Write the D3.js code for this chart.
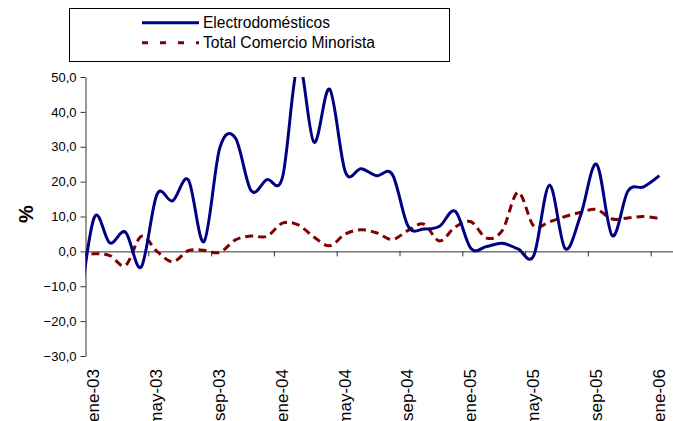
<!DOCTYPE html>
<html>
  <head>
    <meta charset="utf-8">
    <title>Electrodomésticos vs Total Comercio Minorista</title>
    <script src="https://d3js.org/d3.v7.min.js"></script>
    <style>
      body { margin: 0; background: #fff; }
      svg { font-family: "Liberation Sans", Arial, sans-serif; }
      .axis path, .axis line { stroke: #333; }
      .axis text { fill: #000; }
    </style>
  </head>
  <body>
    <svg id="chart" width="673" height="421"></svg>
    <script>
      // monthly series, dic-02 .. ene-06 (first month sits left of the axis and is clipped)
      var electro = [-20, 9.6, 2.4, 5.5, -4.5, 16.3, 14.5, 20.5, 2.8, 29.6, 32.5, 17.4, 20.6, 21.3,
        54, 31.3, 46.5, 22.8, 23.7, 21.7, 22, 7.2, 6.4, 7.2, 11.5, 0.8, 1.4, 2.3, 0.7, -1.2,
        19.0, 0.8, 10.5, 25, 4.5, 17.3, 18.5, 21.7];
      var total = [-1.2, -0.7, -1.2, -4.0, 4.3, 0.0, -3.0, 0.2, 0.3, -0.3, 3.3, 4.4, 4.3, 8.1,
        7.6, 4.1, 1.6, 5.0, 6.2, 5.3, 3.4, 6.0, 7.8, 3.0, 7.0, 8.5, 3.8, 6.0, 16.9, 7.3,
        8.5, 10.0, 11.2, 12.0, 9.3, 9.6, 10.0, 9.4];
      var tickLabels = ["ene-03", "may-03", "sep-03", "ene-04", "may-04", "sep-04", "ene-05", "may-05", "sep-05", "ene-06"];
      var tickMonths = [0, 4, 8, 12, 16, 20, 24, 28, 32, 36];
      var yTicks = [-30, -20, -10, 0, 10, 20, 30, 40, 50];
      var seriesNames = ["Electrodomésticos", "Total Comercio Minorista"];

      var svg = d3.select("#chart");
      // months since ene-03 -> px
      var x = d3.scaleLinear().domain([0, 36]).range([85.5, 650.7]);
      var y = d3.scaleLinear().domain([-30, 50]).range([356, 77]);
      var half = 0.55; // points sit in the middle of each month

      svg.append("defs").append("clipPath").attr("id", "plot")
        .append("rect")
          .attr("x", x(0)).attr("y", y(50))
          .attr("width", 673 - x(0)).attr("height", y(-30) - y(50));

      // y axis
      var fmt = function(d) { return d3.format(".1f")(d).replace(".", ","); };
      svg.append("g").attr("class", "axis")
        .attr("transform", "translate(" + x(0) + ",0)")
        .call(d3.axisLeft(y).tickValues(yTicks).tickFormat(fmt).tickSize(5).tickSizeOuter(0).tickPadding(4))
        .selectAll("text").style("font-size", "13px");

      // x axis at zero
      var xa = svg.append("g").attr("class", "axis")
        .attr("transform", "translate(0," + y(0) + ")")
        .call(d3.axisBottom(x).tickValues(tickMonths).tickFormat("").tickSize(5).tickSizeOuter(0));
      xa.select(".domain").attr("d", "M" + x(0) + ",0.5H673");

      svg.append("g").selectAll("text")
          .data(tickLabels)
        .enter().append("text")
          .attr("transform", function(d, i) { return "translate(" + x(tickMonths[i] + 0.5) + ",369) rotate(-90)"; })
          .attr("text-anchor", "end")
          .attr("dy", "0.35em")
          .style("font-size", "17px")
          .text(function(d) { return d; });

      // y title
      svg.append("text")
        .attr("transform", "translate(26,214) rotate(-90)")
        .attr("text-anchor", "middle")
        .attr("dy", "0.35em")
        .style("font-size", "20px")
        .style("font-weight", "bold")
        .text("%");

      // lines
      var line = d3.line()
        .x(function(d, i) { return x(i - 1 + half); })
        .y(function(d) { return y(d); })
        .curve(d3.curveCatmullRom.alpha(0));

      var plot = svg.append("g").attr("clip-path", "url(#plot)");
      plot.append("path")
        .datum(total)
        .attr("d", line)
        .attr("fill", "none")
        .attr("stroke", "#800000")
        .attr("stroke-width", 3)
        .attr("stroke-dasharray", "8,5");
      plot.append("path")
        .datum(electro)
        .attr("d", line)
        .attr("fill", "none")
        .attr("stroke", "#000080")
        .attr("stroke-width", 3);

      // legend
      var legend = svg.append("g");
      legend.append("rect")
        .attr("x", 69.5).attr("y", 8.5).attr("width", 380).attr("height", 53)
        .attr("fill", "#fff").attr("stroke", "#000");
      var items = legend.selectAll(".item")
          .data(seriesNames)
        .enter().append("g")
          .attr("transform", function(d, i) { return "translate(0," + (22.7 + i * 20) + ")"; });
      items.append("line")
        .attr("x1", 142).attr("x2", 199)
        .attr("stroke", function(d, i) { return i ? "#800000" : "#000080"; })
        .attr("stroke-width", 3)
        .attr("stroke-dasharray", function(d, i) { return i ? "6,12" : null; });
      items.append("text")
        .attr("x", 203)
        .attr("dy", "0.35em")
        .style("font-size", "16px")
        .attr("textLength", function(d, i) { return i ? 172 : 127; })
        .attr("lengthAdjust", "spacingAndGlyphs")
        .text(function(d) { return d; });
    </script>
  </body>
</html>
